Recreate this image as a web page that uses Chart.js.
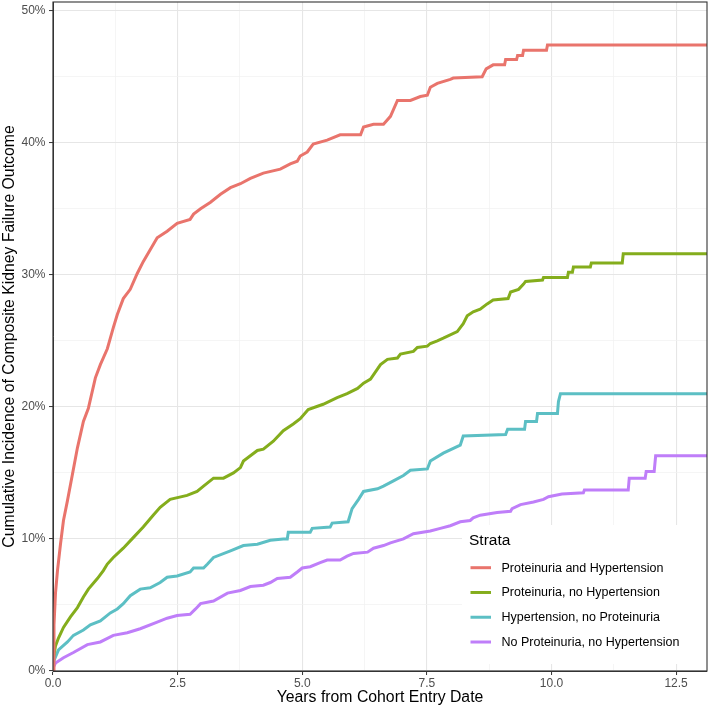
<!DOCTYPE html>
<html lang="en">
<head>
<meta charset="UTF-8">
<title>Cumulative Incidence of Composite Kidney Failure Outcome</title>
<script src="https://cdn.jsdelivr.net/npm/chart.js@4.4.1/dist/chart.umd.min.js"></script>
<style>
  body { margin: 0; background: #fff; }
  #chart { display: block; }
</style>
</head>
<body>
<canvas id="chart" width="710" height="710"></canvas>
<script>
// strata names and line colours
const strata = ['Proteinuria and Hypertension', 'Proteinuria, no Hypertension', 'Hypertension, no Proteinuria', 'No Proteinuria, no Hypertension'];
const colors = ['#E9746C', '#84AD1C', '#5CBFC4', '#BF7EF9'];

// [years from entry, cumulative incidence %]
const protHyp = [[0,0],[0.02,3.5],[0.05,5.9],[0.09,7.6],[0.15,9.6],[0.21,11.4],[0.29,12.9],[0.39,14.9],[0.49,16.9],[0.61,18.9],
  [0.71,19.9],[0.85,22.2],[0.95,23.2],[1.09,24.4],[1.21,26.0],[1.29,27.0],[1.41,28.2],[1.55,28.9],[1.69,30.1],[1.81,31.0],
  [2.09,32.8],[2.29,33.3],[2.49,33.9],[2.75,34.2],[2.82,34.6],[2.96,35.0],[3.16,35.5],[3.36,36.1],[3.56,36.6],[3.76,36.9],
  [3.96,37.3],[4.22,37.7],[4.56,38.0],[4.76,38.4],[4.90,38.6],[4.96,39.0],[5.10,39.3],[5.22,39.9],[5.50,40.2],[5.76,40.6],
  [6.17,40.6],[6.23,41.2],[6.43,41.4],[6.63,41.4],[6.77,42.0],[6.91,43.2],[7.17,43.2],[7.37,43.5],[7.51,43.6],[7.57,44.2],
  [7.71,44.5],[7.97,44.8],[8.03,44.9],[8.61,45.0],[8.69,45.6],[8.83,45.9],[9.06,45.9],[9.08,46.3],[9.30,46.3],[9.32,46.6],
  [9.42,46.6],[9.44,47.0],[9.90,47.0],[9.92,47.4],[13.12,47.4]];

const protNoHyp = [[0,0],[0.01,1.0],[0.05,1.9],[0.11,2.5],[0.21,3.3],[0.35,4.1],[0.49,4.8],[0.61,5.6],[0.71,6.2],[0.89,7.0],
  [1.01,7.6],[1.09,8.1],[1.21,8.6],[1.41,9.3],[1.61,10.1],[1.81,10.9],[2.01,11.8],[2.15,12.4],[2.35,13.0],[2.69,13.3],
  [2.89,13.6],[3.02,14.0],[3.22,14.6],[3.42,14.6],[3.62,15.0],[3.76,15.4],[3.82,15.9],[4.10,16.7],[4.22,16.8],[4.42,17.4],
  [4.62,18.2],[4.82,18.7],[4.96,19.1],[5.12,19.8],[5.42,20.2],[5.70,20.7],[5.90,21.0],[6.11,21.4],[6.23,21.8],[6.37,22.1],
  [6.57,23.2],[6.71,23.6],[6.91,23.7],[6.97,24.0],[7.23,24.2],[7.31,24.5],[7.51,24.6],[7.57,24.8],[7.71,25.0],[7.83,25.2],
  [8.11,25.7],[8.23,26.3],[8.31,26.9],[8.43,27.2],[8.57,27.4],[8.71,27.8],[8.83,28.1],[9.13,28.2],[9.18,28.7],[9.34,28.9],
  [9.44,29.3],[9.48,29.5],[9.82,29.6],[9.84,29.8],[10.32,29.8],[10.34,30.2],[10.42,30.2],[10.44,30.6],[10.78,30.6],[10.80,30.9],
  [11.42,30.9],[11.44,31.6],[13.12,31.6]];

const hypNoProt = [[0,0],[0.01,0.7],[0.11,1.6],[0.29,2.2],[0.41,2.7],[0.61,3.1],[0.75,3.5],[0.95,3.8],[1.15,4.4],[1.29,4.7],
  [1.41,5.1],[1.55,5.7],[1.75,6.2],[1.95,6.3],[2.15,6.7],[2.29,7.1],[2.49,7.2],[2.75,7.5],[2.82,7.8],[3.02,7.8],
  [3.10,8.1],[3.22,8.6],[3.56,9.1],[3.82,9.5],[4.10,9.6],[4.36,9.9],[4.62,10.0],[4.70,10.0],[4.72,10.5],[5.16,10.5],
  [5.20,10.8],[5.56,10.9],[5.60,11.2],[5.92,11.3],[6.00,12.3],[6.13,13.0],[6.23,13.6],[6.51,13.8],[6.63,14.0],[6.83,14.4],
  [7.03,14.8],[7.17,15.2],[7.51,15.3],[7.57,15.9],[7.83,16.5],[8.17,17.1],[8.23,17.8],[9.08,17.9],[9.12,18.3],[9.46,18.3],
  [9.48,18.9],[9.70,18.9],[9.72,19.5],[10.12,19.5],[10.14,20.4],[10.18,21.0],[13.12,21.0]];

const noProtNoHyp = [[0,0],[0.01,0.3],[0.05,0.6],[0.21,1.0],[0.41,1.4],[0.69,2.0],[0.95,2.2],[1.21,2.7],[1.49,2.9],[1.75,3.2],
  [2.09,3.7],[2.29,4.0],[2.49,4.2],[2.75,4.3],[2.86,4.7],[2.96,5.1],[3.22,5.3],[3.50,5.9],[3.76,6.1],[3.96,6.4],
  [4.22,6.5],[4.36,6.7],[4.50,7.0],[4.76,7.1],[4.90,7.5],[5.00,7.8],[5.16,7.9],[5.36,8.2],[5.50,8.4],[5.76,8.4],
  [5.90,8.7],[6.03,8.9],[6.31,9.0],[6.43,9.3],[6.63,9.5],[6.77,9.7],[7.03,10.0],[7.23,10.4],[7.57,10.6],[7.77,10.8],
  [7.97,11.0],[8.17,11.3],[8.37,11.4],[8.43,11.6],[8.57,11.8],[8.91,12.0],[9.18,12.1],[9.21,12.3],[9.38,12.6],[9.64,12.8],
  [9.84,13.0],[9.94,13.2],[10.21,13.4],[10.64,13.5],[10.66,13.7],[11.54,13.7],[11.56,14.6],[11.88,14.6],[11.90,15.1],[12.06,15.1],
  [12.09,16.3],[13.12,16.3]];

const curves = [protHyp, protNoHyp, hypNoProt, noProtNoHyp];

// axis ranges and ticks
const xMax = 13.12;
const yMax = 50.66;
const xMajor = 2.5, xMinor = 1.25;
const yMajor = 10, yMinor = 5;

const isMajor = (v, step) => Math.abs(v / step - Math.round(v / step)) < 1e-6;

Chart.defaults.font.family = "'Liberation Sans', Arial, sans-serif";

// grey panel border all round (theme_bw)
const panelBorder = {
  id: 'panelBorder',
  afterDraw(chart) {
    const { ctx, chartArea: a } = chart;
    ctx.save();
    ctx.strokeStyle = '#333333';
    ctx.lineWidth = 1.1;
    ctx.strokeRect(a.left, a.top, a.right - a.left, a.bottom - a.top);
    ctx.restore();
  }
};

// legend inside the panel, bottom-right, white box
const strataLegend = {
  id: 'strataLegend',
  afterDatasetsDraw(chart) {
    const { ctx, chartArea: a } = chart;
    const w = 245, h = 146;
    const left = a.right - w, top = a.bottom - h;
    ctx.save();
    ctx.fillStyle = '#ffffff';
    ctx.fillRect(left, top, w, h - 7);
    ctx.fillStyle = '#000000';
    ctx.textBaseline = 'middle';
    ctx.font = "15.5px 'Liberation Sans', Arial, sans-serif";
    ctx.fillText('Strata', left + 7, top + 16);
    ctx.font = "12.5px 'Liberation Sans', Arial, sans-serif";
    chart.data.datasets.forEach((ds, i) => {
      const y = top + 42.7 + i * 24.77;
      ctx.strokeStyle = ds.borderColor;
      ctx.lineWidth = 3;
      ctx.beginPath();
      ctx.moveTo(left + 8.5, y);
      ctx.lineTo(left + 29, y);
      ctx.stroke();
      ctx.fillStyle = '#000000';
      ctx.fillText(ds.label, left + 39.5, y + 0.5);
    });
    ctx.restore();
  }
};

const ctx = document.getElementById('chart').getContext('2d');
new Chart(ctx, {
  type: 'line',
  data: {
    datasets: curves.map((c, i) => ({
      label: strata[i],
      data: c.map(p => ({ x: p[0], y: p[1] })),
      borderColor: colors[i],
      backgroundColor: colors[i],
      borderWidth: 3,
      pointRadius: 0,
      tension: 0,
      fill: false
    }))
  },
  options: {
    responsive: false,
    animation: false,
    devicePixelRatio: 1,
    events: [],
    layout: { padding: { top: 2, right: 3, left: 0, bottom: 0 } },
    plugins: { legend: { display: false }, tooltip: { enabled: false } },
    scales: {
      x: {
        type: 'linear',
        min: 0,
        max: xMax,
        afterFit: s => { s.height = 39; s.paddingLeft = 0; s.paddingRight = 0; },
        border: { display: true, color: '#333333', width: 1 },
        grid: {
          color: c => isMajor(c.tick.value, xMajor) ? '#E6E6E6' : '#F1F1F1',
          lineWidth: c => isMajor(c.tick.value, xMajor) ? 1.1 : 0.7,
          tickColor: c => isMajor(c.tick.value, xMajor) ? '#333333' : 'rgba(0,0,0,0)',
          tickLength: 4,
          tickWidth: 1
        },
        ticks: {
          stepSize: xMinor,
          includeBounds: false,
          autoSkip: false,
          maxRotation: 0,
          padding: 1,
          color: '#4D4D4D',
          font: { size: 12 },
          callback: v => isMajor(v, xMajor) ? v.toFixed(1) : ''
        },
        title: {
          display: true,
          text: 'Years from Cohort Entry Date',
          color: '#000000',
          font: { size: 15.8 },
          padding: { top: 0, bottom: 2.5 }
        }
      },
      y: {
        type: 'linear',
        min: 0,
        max: yMax,
        afterFit: s => { s.width = 53; s.paddingTop = 0; s.paddingBottom = 0; },
        border: { display: true, color: '#333333', width: 1 },
        grid: {
          color: c => isMajor(c.tick.value, yMajor) ? '#E6E6E6' : '#F1F1F1',
          lineWidth: c => isMajor(c.tick.value, yMajor) ? 1.1 : 0.7,
          tickColor: c => isMajor(c.tick.value, yMajor) ? '#333333' : 'rgba(0,0,0,0)',
          tickLength: 4,
          tickWidth: 1
        },
        ticks: {
          stepSize: yMinor,
          includeBounds: false,
          autoSkip: false,
          padding: 3.5,
          color: '#4D4D4D',
          font: { size: 12 },
          callback: v => isMajor(v, yMajor) ? v + '%' : ''
        },
        title: {
          display: true,
          text: 'Cumulative Incidence of Composite Kidney Failure Outcome',
          color: '#000000',
          font: { size: 15.8 },
          padding: { top: 0, bottom: 0 }
        }
      }
    }
  },
  plugins: [strataLegend, panelBorder]
});
</script>
</body>
</html>
